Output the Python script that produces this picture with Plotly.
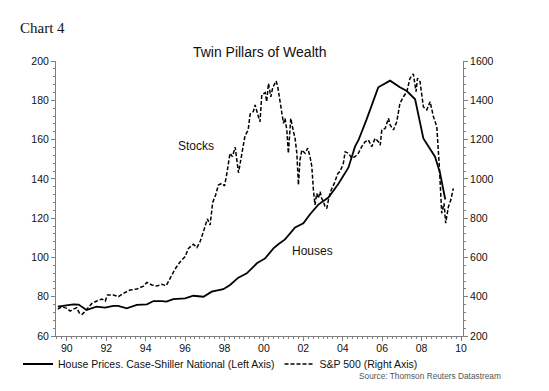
import plotly.graph_objects as go

# ---- data ----
house_years = [1989.54, 1990.0, 1990.33, 1990.6, 1991.0, 1991.5, 1991.94, 1992.36, 1992.6,
               1993.04, 1993.55, 1994.06, 1994.4, 1994.82, 1995.05, 1995.4, 1996.0, 1996.42,
               1996.93, 1997.35, 1997.94, 1998.28, 1998.7, 1999.13, 1999.64, 2000.06, 2000.48,
               2000.73, 2001.07, 2001.58, 2002.0, 2002.34, 2002.76, 2003.27, 2003.78, 2004.29,
               2004.62, 2004.8, 2005.2, 2005.8, 2006.4, 2006.9, 2007.25, 2007.67, 2008.09,
               2008.68, 2008.94, 2009.2]
house_values = [74.9, 75.5, 76.1, 76.0, 73.2, 74.9, 74.4, 75.3, 75.3,
                74.1, 75.8, 76.1, 77.8, 77.8, 77.5, 78.8, 79.2, 80.5,
                80.0, 82.6, 83.8, 86.0, 89.7, 91.9, 97.0, 99.5, 104.6,
                106.7, 109.2, 115.3, 117.4, 122.0, 126.9, 130.5, 137.5, 145.8,
                156.4, 159.8, 170.0, 186.6, 190.0, 186.6, 184.7, 180.5, 160.6,
                151.3, 142.8, 129.5]

sp_years = [1989.54, 1989.75, 1990.0, 1990.17, 1990.33, 1990.5, 1990.64, 1990.77, 1990.88,
            1991.1, 1991.27, 1991.52, 1991.78, 1991.95, 1992.06, 1992.36, 1992.62, 1992.87,
            1993.2, 1993.55, 1993.89, 1994.06, 1994.31, 1994.57, 1994.82, 1995.04, 1995.24,
            1995.49, 1995.75, 1996.0, 1996.17, 1996.42, 1996.6, 1996.76, 1996.93, 1997.13,
            1997.27, 1997.4, 1997.55, 1997.69, 1997.86, 1998.0, 1998.12, 1998.28, 1998.4,
            1998.54, 1998.71, 1998.88, 1999.04, 1999.2, 1999.3, 1999.46, 1999.55, 1999.72,
            1999.8, 1999.89, 2000.06, 2000.14, 2000.23, 2000.35, 2000.45, 2000.62, 2000.7,
            2000.82, 2000.9, 2000.99, 2001.07, 2001.16, 2001.24, 2001.36, 2001.5, 2001.58,
            2001.67, 2001.75, 2001.83, 2001.92, 2002.09, 2002.22, 2002.34, 2002.43, 2002.51,
            2002.59, 2002.68, 2002.76, 2002.85, 2002.93, 2003.02, 2003.1, 2003.19, 2003.27,
            2003.41, 2003.57, 2003.75, 2003.86, 2004.03, 2004.12, 2004.29, 2004.46, 2004.62,
            2004.79, 2004.96, 2005.13, 2005.3, 2005.47, 2005.64, 2005.8, 2005.9, 2005.98,
            2006.15, 2006.32, 2006.4, 2006.57, 2006.74, 2006.9, 2007.08, 2007.25, 2007.41,
            2007.58, 2007.72, 2007.79, 2007.92, 2008.0, 2008.09, 2008.26, 2008.43, 2008.6,
            2008.77, 2008.9, 2009.02, 2009.14, 2009.22, 2009.36, 2009.48, 2009.61]
sp_values = [337, 349, 341, 327, 337, 344, 316, 310, 320,
             349, 366, 378, 388, 378, 409, 409, 400, 417,
             434, 439, 454, 473, 460, 455, 463, 456, 494,
             541, 578, 604, 646, 667, 650, 680, 731, 796,
             765, 880, 918, 969, 977, 964, 1028, 1130, 1113,
             1161, 1031, 1140, 1219, 1249, 1330, 1342, 1376, 1316,
             1291, 1427, 1439, 1393, 1486, 1418, 1466, 1498, 1469,
             1393, 1342, 1283, 1308, 1249, 1130, 1308, 1240, 1206,
             1130, 969, 1096, 1147, 1130, 1156, 1113, 1062, 943,
             867, 926, 901, 935, 901, 884, 858, 850, 892,
             943, 977, 1028, 1037, 1079, 1138, 1130, 1105, 1113,
             1130, 1164, 1189, 1198, 1164, 1206, 1190, 1172, 1249,
             1257, 1308, 1274, 1249, 1291, 1385, 1418, 1444, 1512,
             1534, 1444, 1512, 1495, 1435, 1367, 1351, 1393, 1316,
             1266, 1062, 825, 876, 774, 858, 892, 952]

x_tick_vals = [1990, 1992, 1994, 1996, 1998, 2000, 2002, 2004, 2006, 2008, 2010]
x_tick_text = ["90", "92", "94", "96", "98", "00", "02", "04", "06", "08", "10"]

FONT = "Liberation Sans, Arial, sans-serif"
AXIS_COLOR = "#7f7f7f"

fig = go.Figure()
fig.add_trace(go.Scatter(
    x=house_years, y=house_values, mode="lines",
    name="House Prices. Case-Shiller National (Left Axis)",
    line=dict(color="black", width=1.8), yaxis="y"))
fig.add_trace(go.Scatter(
    x=sp_years, y=sp_values, mode="lines",
    name="S&P 500 (Right Axis)",
    line=dict(color="black", width=1.5, dash="4px,2px"), yaxis="y2"))

fig.update_layout(
    width=549, height=391,
    margin=dict(l=56, r=86, t=61, b=55),
    paper_bgcolor="white", plot_bgcolor="white",
    font=dict(family=FONT, size=10, color="#111"),
    title=dict(text="Twin Pillars of Wealth", x=0.473, xanchor="center",
               y=1 - 51.7 / 391, yanchor="middle",
               font=dict(family=FONT, size=14, color="#111")),
    xaxis=dict(range=[1989.45, 2010.1], tickvals=x_tick_vals, ticktext=x_tick_text,
               showgrid=False, zeroline=False, showline=True, linecolor=AXIS_COLOR,
               linewidth=1, ticks="outside", ticklen=4, tickcolor=AXIS_COLOR,
               tickfont=dict(size=10.5), ticklabelstandoff=-2,
               minor=dict(dtick=0.25, tick0=1990, ticks="outside", ticklen=2,
                          tickcolor=AXIS_COLOR)),
    yaxis=dict(range=[60, 200], dtick=20, showgrid=False, zeroline=False,
               showline=True, linecolor=AXIS_COLOR, linewidth=1,
               ticks="outside", ticklen=4, tickcolor=AXIS_COLOR,
               tickfont=dict(size=10.5),
               minor=dict(dtick=4, ticks="outside", ticklen=2, tickcolor=AXIS_COLOR)),
    yaxis2=dict(range=[200, 1600], dtick=200, overlaying="y", side="right",
                showgrid=False, zeroline=False, showline=True, linecolor=AXIS_COLOR,
                linewidth=1, ticks="outside", ticklen=4, tickcolor=AXIS_COLOR,
                tickfont=dict(size=10.5),
                minor=dict(dtick=40, ticks="outside", ticklen=2, tickcolor=AXIS_COLOR)),
    showlegend=True,
    legend=dict(orientation="h", x=(18 - 56) / 407, xanchor="left",
                y=-(364 - 336) / 275, yanchor="middle",
                font=dict(family=FONT, size=10.5, color="#111"),
                bgcolor="rgba(0,0,0,0)", borderwidth=0),
    annotations=[
        dict(text="Chart 4", xref="paper", yref="paper", x=(18 - 56) / 407, xanchor="left",
             y=1 + (61 - 28.3) / 275, yanchor="middle", showarrow=False,
             font=dict(family="Liberation Serif, Times New Roman, serif", size=15, color="#111")),
        dict(text="Stocks", x=1996.56, y=156.9, xref="x", yref="y", showarrow=False,
             font=dict(family=FONT, size=12, color="#111")),
        dict(text="Houses", x=2002.47, y=103.3, xref="x", yref="y", showarrow=False,
             font=dict(family=FONT, size=12, color="#111")),
        dict(text="Source: Thomson Reuters Datastream", xref="paper", yref="paper",
             x=(357 - 56) / 407, xanchor="left", y=-(375.7 - 336) / 275, yanchor="middle",
             showarrow=False, font=dict(family=FONT, size=8.3, color="#555")),
    ],
)

fig.write_html("out.html", config={"displayModeBar": False})

# remove the browser's default page margin so the figure sits at (0, 0)
with open("out.html", "r", encoding="utf-8") as f:
    html = f.read()
html = html.replace("<head>", "<head><style>html,body{margin:0;padding:0;overflow:hidden;}</style>", 1)
with open("out.html", "w", encoding="utf-8") as f:
    f.write(html)
